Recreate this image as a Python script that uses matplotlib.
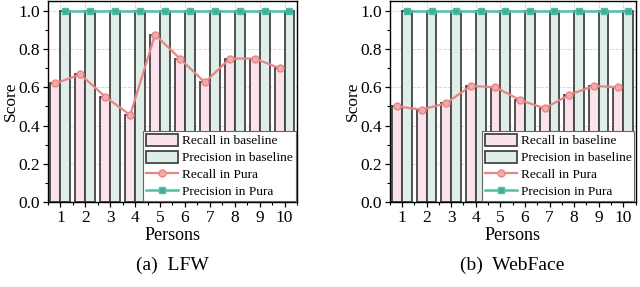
import numpy as np
import matplotlib
matplotlib.use("Agg")
import matplotlib.pyplot as plt
from matplotlib.ticker import MultipleLocator

plt.rcParams['font.family'] = ['Liberation Serif', 'DejaVu Serif']

persons = list(range(1, 11))
lfw_recall = [0.62, 0.667, 0.55, 0.455, 0.875, 0.75, 0.625, 0.75, 0.75, 0.70]
lfw_precision = [1.0] * 10
web_recall = [0.50, 0.483, 0.517, 0.607, 0.60, 0.533, 0.49, 0.56, 0.607, 0.60]
web_precision = [1.0] * 10
captions = ["(a)  LFW", "(b)  WebFace"]

pink = '#fbe2ed'
green = '#dfeee9'
red = '#e88585'
teal = '#4dbfa8'

fig = plt.figure(figsize=(6.4, 2.87), dpi=100)
axes = [fig.add_axes([0.075, 0.296, 0.389, 0.700]),
        fig.add_axes([0.609, 0.296, 0.384, 0.700])]

x = np.array(persons)
w = 0.4
for ax, rec, prec, cap in zip(axes, [lfw_recall, web_recall],
                              [lfw_precision, web_precision], captions):
    ax.set_axisbelow(True)
    ax.grid(True, color='#d0d0d0', linestyle='--', linewidth=0.6)
    b1 = ax.bar(x - w / 2, rec, width=w, color=pink, edgecolor='#444444',
                linewidth=1.3)
    b2 = ax.bar(x + w / 2, prec, width=w, color=green, edgecolor='#444444',
                linewidth=1.3)
    l1, = ax.plot(x - w / 2, rec, color=red, linewidth=1.6, marker='o',
                  markersize=5, markerfacecolor='#f4aaaa', markeredgecolor=red)
    l2, = ax.plot(x + w / 2, prec, color=teal, linewidth=1.8, marker='s',
                  markersize=5, markerfacecolor='#43ad98', markeredgecolor=teal)
    ax.set_xlim(0.5, 10.5)
    ax.set_ylim(0, 1.05)
    ax.set_xticks(persons)
    ax.yaxis.set_major_locator(MultipleLocator(0.2))
    ax.yaxis.set_minor_locator(MultipleLocator(0.1))
    ax.xaxis.set_minor_locator(MultipleLocator(0.5))
    ax.tick_params(labelsize=12.5, direction='out', length=3.5, width=0.9, pad=2)
    ax.tick_params(which='minor', length=2, width=0.8)
    for s in ax.spines.values():
        s.set_linewidth(1.0)
    ax.set_xlabel('Persons', fontsize=13, labelpad=1)
    ax.set_ylabel('Score', fontsize=12.5)
    ax.yaxis.set_label_coords(-0.118, 0.5)
    leg = ax.legend([b1, b2, l1, l2],
                    ['Recall in baseline', 'Precision in baseline',
                     'Recall in Pura', 'Precision in Pura'],
                    loc='lower right', fontsize=9.6, frameon=True, fancybox=False,
                    edgecolor='#666666', framealpha=1, borderaxespad=0.1,
                    handlelength=2.4, handleheight=1.0, handletextpad=0.3,
                    labelspacing=0.25, borderpad=0.2)
    leg.get_frame().set_linewidth(0.8)
    pos = ax.get_position()
    fig.text((pos.x0 + pos.x1) / 2, 0.075, cap, ha='center', va='center',
             fontsize=14)

fig.savefig('out.png', dpi=100)
